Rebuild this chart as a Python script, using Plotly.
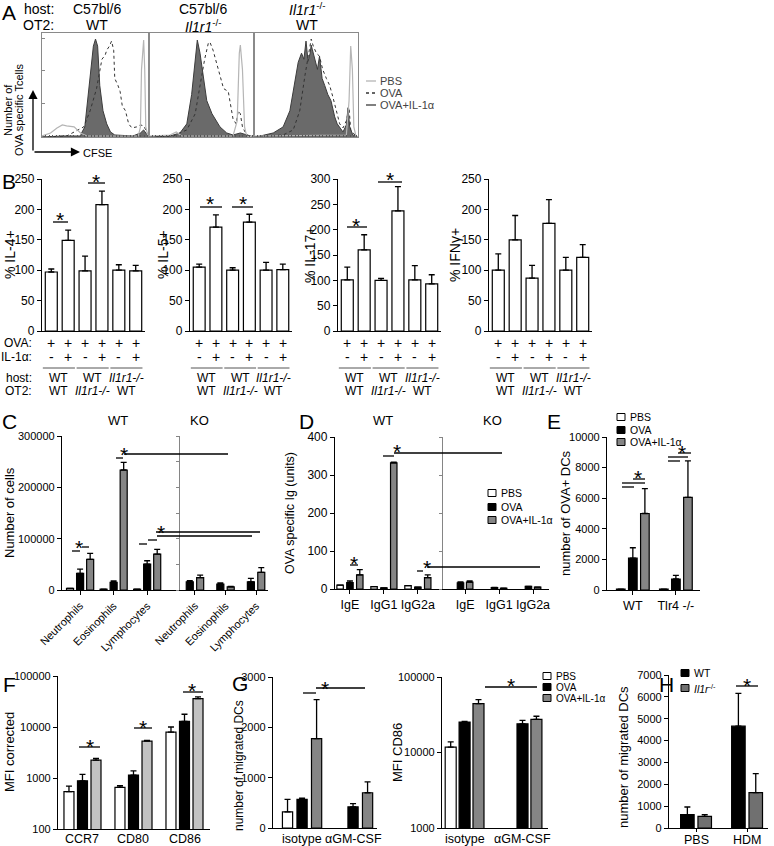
import plotly.graph_objects as go

W, H = 774, 846
FONT = 'Arial, "Liberation Sans", sans-serif'
GREY = '#858585'

# ---- A: CFSE histograms (x = CFSE channel 0-100, y = % of max) ----
a1_il1_x = [0, 20, 36, 37, 40, 42.5, 45, 48, 50, 52, 54, 57, 60.5, 64, 68, 85, 92, 95, 97, 99, 100]
a1_il1_y = [0, 1, 1, 4, 10, 35, 67, 90, 97, 90, 51, 26, 13, 5, 2, 1, 4, 7, 4, 1, 0]
a1_ova_x = [0, 23, 39, 45, 51, 56, 59, 60.5, 63, 65, 67, 68, 71, 73, 75, 78, 81, 84, 88.5, 92, 95, 98, 100]
a1_ova_y = [0, 1, 10, 26, 48, 77, 81, 86, 90, 95, 86, 58, 51, 45, 31, 26, 13, 9, 10, 12, 11, 5, 1]
a1_pbs_x = [0, 8, 14, 19, 23, 30, 36, 42, 90, 92, 93, 95, 96, 97, 99, 100]
a1_pbs_y = [1, 4, 9, 12, 11, 10, 4, 1, 1, 10, 67, 96, 67, 10, 1, 0]

a2_il1_x = [0, 20, 29.5, 36, 40.6, 44, 46, 48.6, 52, 55, 60, 64, 67.6, 74, 80, 87, 93, 100]
a2_il1_y = [0, 1, 4, 13, 42, 74, 96, 83, 55, 36, 23, 16, 10, 4, 2, 4, 2, 0]
a2_ova_x = [0, 23, 36, 44, 48.6, 53, 56.5, 58, 61, 64, 67.6, 71, 75.5, 78, 80, 83, 85, 87, 89, 93, 100]
a2_ova_y = [0, 1, 7, 23, 51, 77, 93, 94, 86, 74, 62, 48, 45, 29, 18, 13, 26, 23, 10, 2, 0]
a2_pbs_x = [0, 20, 26, 31, 80, 84, 86, 87, 89, 91, 93, 100]
a2_pbs_y = [1, 2, 5, 1, 1, 16, 83, 91, 67, 10, 1, 0]

a3_il1_x = [0, 6, 18.5, 28, 34.5, 39, 42.5, 45.7, 48, 50, 52, 54, 55, 56, 58.5, 61, 63, 65.5, 68, 71, 74, 77.6, 80,
            82.4, 85.6, 88.8, 90.4, 92, 95, 100]
a3_il1_y = [0, 1, 4, 10, 26, 51, 74, 83, 77, 95, 75, 83, 91, 87, 77, 67, 80, 58, 51, 42, 36, 20, 13, 9, 5, 12, 29,
            10, 2, 0]
a3_ova_x = [0, 28, 37.7, 44, 49, 53.7, 55, 57, 60, 63, 66, 69.6, 72.8, 76, 79, 82.4, 85.6, 88.8, 91.4, 93, 97, 100]
a3_ova_y = [0, 2, 7, 26, 61, 93, 97, 90, 83, 80, 67, 58, 51, 39, 26, 13, 9, 16, 29, 7, 2, 0]
a3_pbs_x = [0, 88.8, 91.4, 93, 94.6, 96, 98, 100]
a3_pbs_y = [1, 2, 36, 90, 67, 10, 1, 0]

# ---- B: % cytokine+ OT-II cells ----
b_il4 = [97, 149, 99, 208, 100, 99]
b_il4_err = [5, 17, 24, 22, 9, 9]
b_il5 = [105, 171, 100, 179, 100, 101]
b_il5_err = [5, 20, 4, 13, 13, 9]
b_il17 = [101, 160, 100, 237, 101, 93]
b_il17_err = [25, 30, 4, 48, 28, 18]
b_ifng = [100, 150, 87, 177, 100, 121]
b_ifng_err = [27, 40, 21, 39, 21, 21]
b_ova = ['+', '+', '+', '+', '+', '+']
b_il1 = ['-', '+', '-', '+', '-', '+']
b_host = ['WT', 'WT', '<i>Il1r1-/-</i>']
b_ot2 = ['WT', '<i>Il1r1-/-</i>', 'WT']

# ---- C: BAL cell numbers ----
c_cells = ['Neutrophils', 'Eosinophils', 'Lymphocytes']
c_wt_pbs = [3000, 1500, 1500]
c_wt_ova = [32500, 15000, 50500]
c_wt_ova_err = [8000, 2500, 6500]
c_wt_il1 = [59700, 233800, 70000]
c_wt_il1_err = [11500, 15000, 9000]
c_ko_ova = [16000, 11500, 16000]
c_ko_ova_err = [2000, 2500, 6500]
c_ko_il1 = [24000, 6000, 34500]
c_ko_il1_err = [5000, 1000, 9000]

# ---- D: OVA specific Ig ----
d_ig = ['IgE', 'IgG1', 'IgG2a']
d_wt_pbs = [10, 6, 9]
d_wt_ova = [17, 3, 5]
d_wt_ova_err = [4, 0, 0]
d_wt_il1 = [37, 332, 30]
d_wt_il1_err = [14, 2, 7]
d_ko_ova = [16, 4, 7]
d_ko_ova_err = [3, 0, 0]
d_ko_il1 = [18, 2, 5]
d_ko_il1_err = [3, 0, 0]

# ---- E: OVA+ DCs ----
e_groups = ['WT', 'Tlr4 -/-']
e_pbs = [60, 60]
e_ova = [2080, 720]
e_ova_err = [680, 240]
e_il1 = [5000, 6050]
e_il1_err = [1630, 2390]

# ---- F: MFI ----
f_markers = ['CCR7', 'CD80', 'CD86']
f_pbs = [540, 655, 7900]
f_pbs_err = [155, 50, 2100]
f_ova = [880, 1140, 12900]
f_ova_err = [300, 240, 4900]
f_il1 = [2240, 5270, 36100]
f_il1_err = [175, 170, 2800]

# ---- G ----
g_ab = ['isotype', '\u03b1GM-CSF']
g1_pbs = [320, None]
g1_pbs_err = [250, 0]
g1_ova = [570, 420]
g1_ova_err = [25, 65]
g1_il1 = [1775, 700]
g1_il1_err = [775, 215]
g2_pbs = [11800, None]
g2_pbs_err = [2000, 0]
g2_ova = [25300, 24000]
g2_ova_err = [500, 2600]
g2_il1 = [44300, 27500]
g2_il1_err = [6000, 2700]

# ---- H ----
h_groups = ['PBS', 'HDM']
h_wt = [610, 4660]
h_wt_err = [350, 1500]
h_il1r = [535, 1620]
h_il1r_err = [75, 870]


def px(x):
    return x / W


def py(y):
    return 1 - y / H


fig = go.Figure()
n_ax = 0


def axes(x0, x1, top, bottom, xr, yr, xkw=None, ykw=None, tsize=11):
    global n_ax
    n_ax += 1
    s = '' if n_ax == 1 else str(n_ax)
    xa = dict(domain=[px(x0), px(x1)], range=xr, anchor='y' + s, showgrid=False, zeroline=False,
              showline=True, linecolor='black', linewidth=1.3, ticks='', showticklabels=False,
              tickfont=dict(size=12.5, color='black'), tickcolor='black', ticklen=4, tickangle=0,
              automargin=False)
    ya = dict(domain=[py(bottom), py(top)], range=yr, anchor='x' + s, showgrid=False, zeroline=False,
              showline=True, linecolor='black', linewidth=1.3, ticks='outside', ticklen=4,
              tickcolor='black', tickwidth=1.2, tickfont=dict(size=tsize, color='black'),
              tickformat='d', automargin=False)
    xa.update(xkw or {})
    ya.update(ykw or {})
    fig.update_layout(**{'xaxis' + s: xa, 'yaxis' + s: ya})
    return 'x' + s, 'y' + s


def bars(ax, vals, errs, k, n, step, width, color):
    xs = [i + (k - (n - 1) / 2) * step for i in range(len(vals))]
    fig.add_trace(go.Bar(x=xs, y=vals, width=width, xaxis=ax[0], yaxis=ax[1],
                         marker=dict(color=color, line=dict(color='black', width=1.2)),
                         error_y=dict(type='data', symmetric=False, array=errs,
                                      arrayminus=[0] * len(vals), color='black', thickness=1.3, width=3)))


anns = []
shapes = []


def text(x, y, s, size=13, xanchor='center', yanchor='middle', angle=0, xref='paper', color='black'):
    anns.append(dict(x=px(x) if xref == 'paper' else x, y=py(y), xref=xref, yref='paper', text=s,
                     showarrow=False, xanchor=xanchor, yanchor=yanchor, textangle=angle,
                     font=dict(size=size, color=color, family=FONT)))


def hline(x0, x1, y, xref='paper', color='black', width=1.3):
    shapes.append(dict(type='line', xref=xref, yref='paper',
                       x0=px(x0) if xref == 'paper' else x0, x1=px(x1) if xref == 'paper' else x1,
                       y0=py(y), y1=py(y), line=dict(color=color, width=width)))


def sig(lines, star):
    for x0, x1, y in lines:
        hline(x0, x1, y)
    text(star[0], star[1] + 5, '*', size=21)


def legend_box(x, y, s, color, w=8, h=7, size=10.5):
    shapes.append(dict(type='rect', xref='paper', yref='paper', x0=px(x), x1=px(x + w),
                       y0=py(y + h / 2), y1=py(y - h / 2), fillcolor=color,
                       line=dict(color='black', width=1)))
    text(x + w + 3, y, s, size=size, xanchor='left')


def arrow(x, y, dx, dy):
    anns.append(dict(x=px(x), y=py(y), xref='paper', yref='paper', axref='pixel', ayref='pixel',
                     ax=dx, ay=dy, showarrow=True, arrowhead=2, arrowsize=1.4, arrowwidth=1.3,
                     arrowcolor='black', text=''))


def cat_labels(ax, labels, y, size=12.5):
    for i, s in enumerate(labels):
        text(i, y, s, size=size, xref=ax[0])


# ================= A =================
a_data = [(a1_il1_x, a1_il1_y, a1_ova_x, a1_ova_y, a1_pbs_x, a1_pbs_y),
          (a2_il1_x, a2_il1_y, a2_ova_x, a2_ova_y, a2_pbs_x, a2_pbs_y),
          (a3_il1_x, a3_il1_y, a3_ova_x, a3_ova_y, a3_pbs_x, a3_pbs_y)]
a_edges = [42, 149, 254, 358]
for i, (ix, iy, ox, oy, bx, by) in enumerate(a_data):
    ax = axes(a_edges[i], a_edges[i + 1], 33, 137, [0, 100], [0, 103],
              xkw=dict(mirror=True, linecolor='#8a8a8a', linewidth=1, ticks='inside', ticklen=2,
                       tickcolor='#555', dtick=3.3),
              ykw=dict(mirror=True, linecolor='#8a8a8a', linewidth=1, ticks='inside' if i == 0 else '',
                       ticklen=3, tickcolor='#888', tickvals=[33, 66, 98], showticklabels=False))
    fig.add_trace(go.Scatter(x=ix, y=iy, xaxis=ax[0], yaxis=ax[1], mode='lines', fill='tozeroy',
                             fillcolor='#6a6a6a', line=dict(color='#3c3c3c', width=1)))
    fig.add_trace(go.Scatter(x=ox, y=oy, xaxis=ax[0], yaxis=ax[1], mode='lines',
                             line=dict(color='#333', width=1, dash='dot')))
    fig.add_trace(go.Scatter(x=bx, y=by, xaxis=ax[0], yaxis=ax[1], mode='lines',
                             line=dict(color='#b5b5b5', width=1.2)))

text(9, 13, 'A', size=21)
text(56, 9, 'host:', size=14, xanchor='right')
text(56, 25, 'OT2:', size=14, xanchor='right')
text(97, 9, 'C57bl/6', size=14)
text(97, 25, 'WT', size=14)
text(203, 9, 'C57bl/6', size=14)
text(203, 26, '<i>Il1r1</i><sup>-/-</sup>', size=14)
text(307, 9, '<i>Il1r1</i><sup>-/-</sup>', size=14)
text(307, 25, 'WT', size=14)
for y, s, dash, col in [(81, 'PBS', 'solid', '#b5b5b5'), (93, 'OVA', 'dot', '#333'),
                        (105, 'OVA+IL-1\u03b1', 'solid', '#3c3c3c')]:
    shapes.append(dict(type='line', xref='paper', yref='paper', x0=px(366), x1=px(376), y0=py(y), y1=py(y),
                       line=dict(color=col, width=1.3, dash=dash)))
    text(378, y, s, size=11, xanchor='left', color='#444')
text(8, 110, 'Number of', size=11, angle=-90)
text(19, 110, 'OVA specific Tcells', size=11, angle=-90)
arrow(33, 90, 0, 62)
arrow(80, 152, -47, 0)
text(81, 153, 'CFSE', size=11, xanchor='left')

# ================= B =================
b_sets = [(42, 145, b_il4, b_il4_err, 250, '% IL-4+', 10),
          (190, 292, b_il5, b_il5_err, 250, '% IL-5+', 163),
          (338, 441, b_il17, b_il17_err, 300, '% IL-17+', 310),
          (489, 592, b_ifng, b_ifng_err, 250, '% IFN\u03b3+', 455)]
for x0, x1, vals, errs, ymax, title, tx in b_sets:
    ax = axes(x0, x1, 179, 331, [-0.55, 5.55], [0, ymax], ykw=dict(dtick=50), tsize=12)
    bars(ax, vals, errs, 0, 1, 0, 0.71, 'white')
    text(tx, 255, title, size=14, angle=-90)
    for i in range(6):
        text(i, 343, b_ova[i], size=14, xref=ax[0])
        text(i, 357, b_il1[i], size=14, xref=ax[0])
    for j in range(3):
        hline(2 * j - 0.5, 2 * j + 1.4, 368, xref=ax[0], color='#555', width=1)
        text(2 * j + 0.45, 378, b_host[j], size=12, xref=ax[0])
        text(2 * j + 0.45, 391, b_ot2[j], size=12, xref=ax[0])
text(9, 182, 'B', size=21)
for y, s in [(343, 'OVA:'), (357, 'IL-1\u03b1:'), (378, 'host:'), (391, 'OT2:')]:
    text(34, y, s, size=12, xanchor='right')
sig([(53, 68, 222)], (60, 214))
sig([(88, 105, 183)], (96, 177))
sig([(200, 222, 207)], (210, 198))
sig([(232, 253, 207)], (243, 198))
sig([(347, 367, 227)], (356, 220))
sig([(378, 402, 182)], (390, 175))

# ================= C =================
c_wt = axes(62, 180, 436, 590, [-0.54, 2.98], [0, 300000],
            xkw=dict(ticks='outside', tickvals=[0, 1, 2], ticktext=c_cells, showticklabels=True,
                     tickangle=-45, tickfont=dict(size=11)),
            ykw=dict(tickvals=[0, 100000, 200000, 300000]))
c_ko = axes(180, 268, 436, 590, [-0.49, 2.39], [0, 300000],
            xkw=dict(ticks='outside', tickvals=[0, 1, 2], ticktext=c_cells, showticklabels=True,
                     tickangle=-45, tickfont=dict(size=11)),
            ykw=dict(linecolor=GREY, tickcolor=GREY, dtick=50000, showticklabels=False, ticklen=3))
bars(c_wt, c_wt_pbs, [0, 0, 0], 0, 3, 0.3, 0.21, 'white')
bars(c_wt, c_wt_ova, c_wt_ova_err, 1, 3, 0.3, 0.21, 'black')
bars(c_wt, c_wt_il1, c_wt_il1_err, 2, 3, 0.3, 0.21, GREY)
bars(c_ko, c_ko_ova, c_ko_ova_err, 0, 2, 0.34, 0.23, 'black')
bars(c_ko, c_ko_il1, c_ko_il1_err, 1, 2, 0.34, 0.23, GREY)
text(9, 421, 'C', size=21)
text(118, 420, 'WT', size=13)
text(200, 420, 'KO', size=13)
text(9, 513, 'Number of cells', size=13, angle=-90)
sig([(72, 80, 551), (82, 89, 547)], (79, 542))
sig([(116, 123, 458), (124, 228, 454)], (124, 449))
sig([(139, 147, 544), (148, 157, 540), (157, 252, 536), (156, 260, 532)], (161, 527))

# ================= D =================
d_wt = axes(335, 443, 437, 589, [-0.44, 2.74], [0, 400],
            xkw=dict(ticks='outside', tickvals=[0, 1, 2], ticktext=d_ig, showticklabels=True),
            ykw=dict(dtick=100), tsize=12)
d_ko = axes(443, 549, 437, 589, [-0.65, 2.47], [0, 400],
            xkw=dict(ticks='outside', tickvals=[0, 1, 2], ticktext=d_ig, showticklabels=True),
            ykw=dict(linecolor=GREY, tickcolor=GREY, dtick=100, showticklabels=False, ticklen=3))
bars(d_wt, d_wt_pbs, [0, 0, 0], 0, 3, 0.29, 0.19, 'white')
bars(d_wt, d_wt_ova, d_wt_ova_err, 1, 3, 0.29, 0.19, 'black')
bars(d_wt, d_wt_il1, d_wt_il1_err, 2, 3, 0.29, 0.19, GREY)
bars(d_ko, d_ko_ova, d_ko_ova_err, 0, 2, 0.27, 0.19, 'black')
bars(d_ko, d_ko_il1, d_ko_il1_err, 1, 2, 0.27, 0.19, GREY)
text(306, 421, 'D', size=21)
text(383, 420, 'WT', size=13)
text(493, 420, 'KO', size=13)
text(290, 513, 'OVA specific Ig (units)', size=12.5, angle=-90)
sig([(350, 358, 565)], (354, 558))
sig([(383, 394, 456), (394, 502, 453)], (397, 446))
sig([(417, 423, 571), (427, 540, 567)], (427, 562))
legend_box(488, 493, 'PBS', 'white')
legend_box(488, 507, 'OVA', 'black')
legend_box(488, 520, 'OVA+IL-1\u03b1', GREY)

# ================= E =================
e_ax = axes(607, 700, 437, 590, [-0.6, 1.56], [0, 10000],
            xkw=dict(ticks='outside', tickvals=[0, 1], ticktext=e_groups, showticklabels=True),
            ykw=dict(dtick=2000))
bars(e_ax, e_pbs, [0, 0], 0, 3, 0.28, 0.2, 'white')
bars(e_ax, e_ova, e_ova_err, 1, 3, 0.28, 0.2, 'black')
bars(e_ax, e_il1, e_il1_err, 2, 3, 0.28, 0.2, GREY)
text(554, 421, 'E', size=21)
text(565, 513, 'number of OVA+ DCs', size=13, angle=-90)
sig([(622, 634, 487), (622, 645, 483), (633, 645, 479)], (638, 472))
sig([(668, 680, 461), (668, 688, 457), (678, 691, 453)], (682, 447))
legend_box(617, 417, 'PBS', 'white')
legend_box(617, 430, 'OVA', 'black')
legend_box(617, 442, 'OVA+IL-1\u03b1', GREY)

# ================= F =================
f_ax = axes(58, 210, 676, 829, [-0.48, 2.5], [2, 5],
            ykw=dict(type='log', tickvals=[100, 1000, 10000, 100000],
                     ticktext=['100', '1000', '10000', '100000']))
bars(f_ax, f_pbs, f_pbs_err, 0, 3, 0.265, 0.196, 'white')
bars(f_ax, f_ova, f_ova_err, 1, 3, 0.265, 0.196, 'black')
bars(f_ax, f_il1, f_il1_err, 2, 3, 0.265, 0.196, '#c2c2c2')
cat_labels(f_ax, f_markers, 839)
text(9, 684, 'F', size=21)
text(9, 752, 'MFI corrected', size=13, angle=-90)
sig([(79, 100, 747)], (90, 741))
sig([(134, 152, 728)], (143, 722))
sig([(183, 203, 692)], (192, 685))

# ================= G =================
g1_ax = axes(273, 377, 677, 828, [-0.57, 1.47], [0, 3000], ykw=dict(dtick=1000))
bars(g1_ax, g1_pbs, g1_pbs_err, 0, 3, 0.285, 0.2, 'white')
bars(g1_ax, g1_ova, g1_ova_err, 1, 3, 0.285, 0.2, 'black')
bars(g1_ax, g1_il1, g1_il1_err, 2, 3, 0.285, 0.2, GREY)
cat_labels(g1_ax, g_ab, 839)
g2_ax = axes(442, 548, 677, 828, [-0.39, 1.44], [3, 5],
             ykw=dict(type='log', tickvals=[1000, 10000, 100000], ticktext=['1000', '10000', '100000']))
bars(g2_ax, g2_pbs, g2_pbs_err, 0, 3, 0.24, 0.19, 'white')
bars(g2_ax, g2_ova, g2_ova_err, 1, 3, 0.24, 0.19, 'black')
bars(g2_ax, g2_il1, g2_il1_err, 2, 3, 0.24, 0.19, GREY)
cat_labels(g2_ax, g_ab, 839)
text(240, 683, 'G', size=21)
text(239, 766, 'number of migrated DCs', size=12, angle=-90)
text(397, 752, 'MFI CD86', size=13, angle=-90)
sig([(303, 316, 693), (316, 365, 688)], (325, 683))
sig([(485, 537, 687)], (511, 680))
legend_box(543, 676, 'PBS', 'white', size=10)
legend_box(543, 687, 'OVA', 'black', size=10)
legend_box(543, 698, 'OVA+IL-1\u03b1', GREY, size=10)

# ================= H =================
h_ax = axes(669, 768, 675, 828, [-0.53, 1.41], [0, 7000],
            xkw=dict(ticks='outside', tickvals=[0, 1], ticklen=3), ykw=dict(dtick=1000))
bars(h_ax, h_wt, h_wt_err, 0, 2, 0.34, 0.265, 'black')
bars(h_ax, h_il1r, h_il1r_err, 1, 2, 0.34, 0.265, '#707070')
cat_labels(h_ax, h_groups, 840)
text(666, 684, 'H', size=21)
text(623, 757, 'number of migrated DCs', size=13, angle=-90)
sig([(736, 758, 686)], (747, 680))
legend_box(681, 673, 'WT', 'black')
legend_box(681, 688, '<i>Il1r</i><sup>-/-</sup>', '#707070')

fig.update_layout(width=W, height=H, margin=dict(l=0, r=0, t=0, b=0, autoexpand=False), showlegend=False,
                  barmode='overlay', paper_bgcolor='white', plot_bgcolor='rgba(0,0,0,0)',
                  font=dict(family=FONT, color='black'), annotations=anns, shapes=shapes)
# the page's default body margin would push the figure 8px down/right
fig.write_html("out.html", config={'displayModeBar': False},
               post_script="document.body.style.margin = '0px';")
